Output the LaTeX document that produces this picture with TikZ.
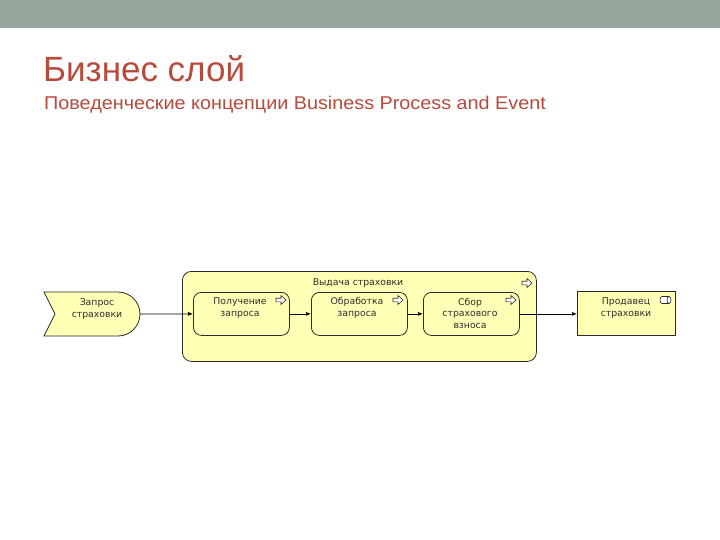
\documentclass[tikz,border=0pt]{standalone}
\usepackage{fontspec}
\setmainfont{Liberation Sans}
\newfontfamily\diafont{DejaVu Sans}
\usetikzlibrary{arrows.meta}
\definecolor{banner}{HTML}{95A69A}
\definecolor{titlered}{HTML}{B84A3C}
\definecolor{archy}{HTML}{FFFFB5}
\definecolor{edgegray}{HTML}{2A2A2A}
\definecolor{txtgray}{HTML}{2E2E2E}
\tikzset{
  elem/.style={draw=edgegray, line width=0.8pt, fill=archy},
  proc/.style={elem, rounded corners=8pt, minimum width=96pt, minimum height=43pt, inner sep=0pt},
  lbl/.style={font=\diafont\fontsize{9.3}{11.5}\selectfont, text=txtgray, align=center},
  conn/.style={draw=black, line width=0.7pt, -{Latex[length=5pt,width=4pt]}},
  icon/.style={draw=edgegray, line width=0.6pt, fill=white}
}
\newcommand{\procicon}[2]{%
  \draw[icon] (#1-5,#2-1.8) -- (#1,#2-1.8) -- (#1,#2-4.5) -- (#1+5,#2) -- (#1,#2+4.5) -- (#1,#2+1.8) -- (#1-5,#2+1.8) -- cycle;}
\begin{document}
\begin{tikzpicture}[x=1pt,y=-1pt]
\useasboundingbox (0,0) rectangle (720,540);
\fill[white] (0,0) rectangle (720,540);
\fill[banner] (0,0) rectangle (720,28);
\node[anchor=base west, inner sep=0pt, text=titlered, font=\fontsize{35}{38}\selectfont] (title) at (43,82) {Бизнес слой};
\node[anchor=base west, inner sep=0pt, text=titlered, font=\fontsize{18.5}{22}\selectfont] (sub) at (44,110) {\scalebox{1.07}[1]{Поведенческие концепции Business Process and Event}};

% container
\node[elem, rounded corners=9pt, minimum width=354pt, minimum height=90pt, inner sep=0pt, anchor=north west] (cont) at (182,271) {};
\node[lbl, anchor=center] (conttitle) at (358,283) {Выдача страховки};
\procicon{527}{283}

% event
\draw[elem] (44,292) -- (118,292) arc[start angle=-90, end angle=90, radius=22] -- (44,336) -- (55,314) -- cycle;
\node[lbl] (ev) at (97,309) {Запрос\\страховки};
\coordinate (evr) at (140,314);

% processes
\node[proc, anchor=north west] (p1) at (193,292) {};
\node[lbl] at (240,308) {Получение\\запроса};
\procicon{281}{300}
\node[proc, anchor=north west] (p2) at (311,292) {};
\node[lbl] at (357,308) {Обработка\\запроса};
\procicon{398}{300}
\node[proc, anchor=north west] (p3) at (423,292) {};
\node[lbl] at (470,313) {Сбор\\страхового\\взноса};
\procicon{511}{300}

% role
\node[elem, minimum width=98pt, minimum height=44pt, inner sep=0pt, anchor=north west] (role) at (577,291) {};
\node[lbl] at (626,308) {Продавец\\страховки};
\draw[edgegray, line width=0.6pt, fill=white] (662,296.5) -- (669,296.5) arc[start angle=-90, end angle=90, x radius=2, y radius=3.5] -- (662,303.5) arc[start angle=90, end angle=270, x radius=2, y radius=3.5] -- cycle;
\draw[edgegray, line width=0.6pt] (669,296.5) arc[start angle=-90, end angle=-270, x radius=2, y radius=3.5];

% connectors
\draw[conn] (evr) -- (p1.west);
\draw[conn] (p1.east) -- (p2.west);
\draw[conn] (p2.east) -- (p3.west);
\draw[conn] (p3.east) -- (p3.east -| role.west);
\end{tikzpicture}
\end{document}
